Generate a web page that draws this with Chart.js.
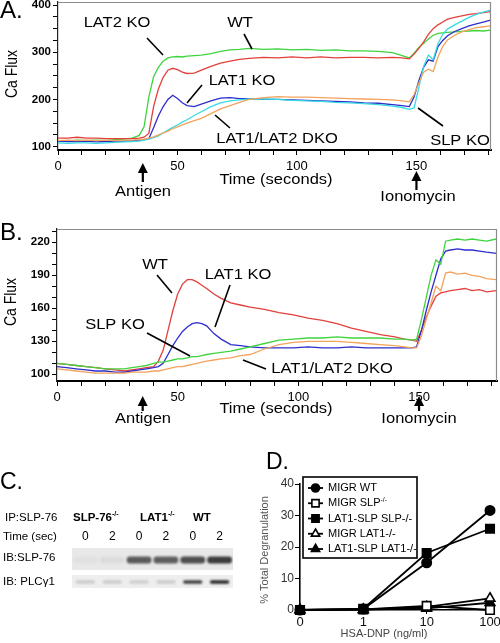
<!DOCTYPE html>
<html><head><meta charset="utf-8">
<script src="https://cdn.jsdelivr.net/npm/chart.js@4.4.1/dist/chart.umd.min.js"></script>
<style>
html,body{margin:0;padding:0;background:#fff;}
#fig{position:relative;width:500px;height:643px;overflow:hidden;background:#fff;}
canvas{position:absolute;}
</style></head><body>
<div id="fig">
<canvas id="cA" width="500" height="205" style="left:0;top:0;width:500px;height:205px"></canvas>
<canvas id="cB" width="500" height="220" style="left:0;top:210px;width:500px;height:220px"></canvas>
<canvas id="cC" width="250" height="130" style="left:0;top:470px;width:250px;height:130px"></canvas>
<canvas id="cD" width="250" height="203" style="left:250px;top:440px;width:250px;height:203px"></canvas>
</div>
<script>
const FONT = "'Liberation Sans', Arial, Helvetica, sans-serif";

// ---------- Panel A data (Ca flux, seconds) ----------
const timeA = [0,4,8,12,16,20,24,28,31,34,36,38,40,42,44,46,48,50,52,54,57,60,64,68,72,76,80,86,92,98,104,110,116,122,128,134,140,144,147,149,151,153,155,157,159,161,163,166,169,172,175,178,181];
const lat2koA = [111,112,114,113,114,113,115,116,118,124,142,205,248,268,281,288,290,291,290,292,293,294,297,302,305,306,308,306,307,305,306,304,305,303,303,302,299,293,288,298,310,319,328,336,340,341,342,343,344,345,346,345,347];
const wtA = [118,118,120,118,118,117,117,117,117,118,120,128,185,222,247,262,266,263,258,255,256,262,270,277,281,285,287,289,288,290,288,290,288,289,289,288,289,288,286,296,308,322,338,350,358,364,370,374,377,380,382,384,386];
const lat1koA = [112,111,111,112,110,111,112,112,113,114,115,117,140,165,185,200,209,202,193,187,185,190,197,203,204,202,202,200,200,199,198,197,196,195,193,192,189,187,185,205,240,268,284,281,312,325,335,344,350,356,360,364,368];
const slpkoA = [108,107,108,108,107,108,109,110,111,112,114,116,119,123,129,135,141,146,152,157,166,174,185,193,197,199,201,201,200,198,197,196,194,193,191,189,186,183,179,182,225,270,294,284,318,338,349,358,366,374,380,385,389];
const dkoA = [113,114,113,114,113,114,113,114,114,115,116,118,121,125,129,133,138,142,146,150,155,160,170,180,187,194,200,204,206,205,205,204,203,202,201,200,199,197,195,210,235,258,264,259,290,312,326,336,343,348,352,354,356];
const xTickLabelsA = [0,50,100,150];
const yTickLabelsA = [100,200,300,400];

// ---------- Panel B data ----------
const timeB = [0,4,8,12,16,20,24,28,31,34,37,40,42,44,46,48,50,52,54,56,58,60,62,65,68,72,76,80,86,92,98,104,110,116,122,128,134,140,144,147,149,151,153,155,157,159,161,163,166,169,172,175,178,182];
const wtB = [110,109,108,107,106,105,104,103,104,105,106,107,112,122,140,158,173,182,186,186,184,181,178,173,169,165,163,161,159,156,154,151,149,146,142,139,136,134,132,131,130,140,152,162,171,174,175,176,177,178,176,177,175,176];
const lat1koB = [107,106,105,104,103,103,102,102,103,104,105,106,107,110,118,126,133,139,143,146,147,146,144,137,132,127,126,125,124,124,124,125,124,124,125,124,124,124,124,124,125,140,158,175,190,205,212,213,214,213,213,212,211,210];
const slpkoB = [110,109,108,107,106,105,105,105,106,107,108,110,111,111,112,113,114,114,115,116,116,117,118,119,120,121,123,125,128,131,132,133,133,134,133,133,133,132,132,131,132,150,170,190,204,200,221,222,223,222,223,222,221,223];
const dkoB = [105,104,103,102,101,101,101,101,102,102,102,103,103,104,105,106,107,107,108,109,110,111,112,113,114,115,117,118,123,127,129,130,130,130,129,128,127,126,125,124,124,135,150,165,180,176,192,193,191,192,190,189,187,186];
const xTickLabelsB = [0,50,100,150];
const yTickLabelsB = [100,130,160,190,220];

// ---------- Panel C (blot band intensities, 0..1) ----------
const laneTimes = ['0','2','0','2','0','2'];
const slp76Band = [0.03,0.06,0.72,0.70,0.78,0.88];
const plcg1Band = [0.16,0.16,0.15,0.16,0.82,0.95];

// ---------- Panel D data ----------
const doseLabels = ['0','1','10','100'];
const migrWT = [0,0.3,15.0,31.6];
const migrSLP = [0,0.2,1.3,0.0];
const lat1slpSLP = [0,0.4,18.1,25.8];
const migrLAT1 = [0,0.1,1.0,3.7];
const lat1slpLAT1 = [0,0.1,0.5,2.3];

// ---------- helpers ----------
const COL = {red:'#e2413b', green:'#3fd43f', blue:'#2d2dcc', cyan:'#36dbe3', orange:'#f2a35c'};
const pts = (t, v) => t.map((x, i) => ({x, y: v[i]}));
const fixY = w => s => { s.width = w; s.paddingTop = 0; s.paddingBottom = 0; };
const fixX = h => s => { s.height = h; s.paddingLeft = 0; s.paddingRight = 0; };
const ANNOT = {};

function drawText(ctx, o) {
  ctx.save();
  ctx.translate(o.x, o.y);
  if (o.rot) ctx.rotate(o.rot);
  ctx.scale(o.sx || 1, o.sy || 1);
  ctx.fillStyle = o.color || '#000';
  ctx.textBaseline = 'middle';
  const parts = o.parts || [{s: o.t}];
  const w = o.weight || 'normal';
  const mainFont = w + ' ' + o.size + 'px ' + FONT;
  const supFont = w + ' ' + (o.size * 0.62).toFixed(1) + 'px ' + FONT;
  let total = 0;
  const widths = parts.map(p => { ctx.font = p.sup ? supFont : mainFont; const ww = ctx.measureText(p.s).width; total += ww; return ww; });
  let x0 = o.align === 'left' ? 0 : (o.align === 'right' ? -total : -total / 2);
  ctx.textAlign = 'left';
  parts.forEach((p, i) => { ctx.font = p.sup ? supFont : mainFont; ctx.fillText(p.s, x0, p.sup ? -o.size * 0.33 : 0); x0 += widths[i]; });
  ctx.restore();
}

const figPlugin = {
  id: 'figPlugin',
  beforeDatasetsDraw(chart) {
    const a = ANNOT[chart.canvas.id]; if (!a || !a.strips) return;
    const ctx = chart.ctx, ca = chart.chartArea, ys = chart.scales.y;
    a.strips.forEach(s => {
      const y0 = ys.getPixelForValue(s.y0), y1 = ys.getPixelForValue(s.y1);
      ctx.fillStyle = s.color;
      ctx.fillRect(ca.left, Math.min(y0, y1), ca.right - ca.left, Math.abs(y1 - y0));
    });
  },
  beforeDatasetDraw(chart) { const a = ANNOT[chart.canvas.id]; if (a && a.blur) { chart.ctx.save(); chart.ctx.filter = 'blur(' + a.blur + 'px)'; } },
  afterDatasetDraw(chart) { const a = ANNOT[chart.canvas.id]; if (a && a.blur) chart.ctx.restore(); },
  afterDraw(chart) {
    const a = ANNOT[chart.canvas.id]; if (!a) return;
    const ctx = chart.ctx, ca = chart.chartArea;
    ctx.save();
    if (a.frame) {
      ctx.strokeStyle = a.frame; ctx.lineWidth = 1.2;
      ctx.beginPath(); ctx.moveTo(ca.left, ca.top + 0.5); ctx.lineTo(ca.right - 0.5, ca.top + 0.5); ctx.lineTo(ca.right - 0.5, ca.bottom); ctx.stroke();
    }
    (a.lines || []).forEach(l => {
      ctx.strokeStyle = '#000'; ctx.lineWidth = 1.6;
      ctx.beginPath(); ctx.moveTo(l[0], l[1]); ctx.lineTo(l[2], l[3]); ctx.stroke();
    });
    (a.arrows || []).forEach(ar => {
      const x = chart.scales.x.getPixelForValue(ar.t);
      ctx.fillStyle = '#000'; ctx.strokeStyle = '#000'; ctx.lineWidth = 2.2;
      ctx.beginPath(); ctx.moveTo(x, ar.y1 + 6); ctx.lineTo(x, ar.y2); ctx.stroke();
      ctx.beginPath(); ctx.moveTo(x, ar.y1); ctx.lineTo(x - 5, ar.y1 + 10); ctx.lineTo(x + 5, ar.y1 + 10); ctx.closePath(); ctx.fill();
    });
    (a.texts || []).forEach(o => drawText(ctx, o));
    if (a.laneLabels) {
      a.laneLabels.forEach((lab, i) => drawText(ctx, {t: lab, x: chart.scales.x.getPixelForValue(i), y: a.laneY, size: 12}));
    }
    if (a.legend) a.legend(chart);
    ctx.restore();
  }
};

function curveChart(id, cfg) {
  return new Chart(document.getElementById(id), {
    type: 'line',
    data: { datasets: cfg.series.map(s => ({
      label: s.label, data: pts(cfg.time, s.values), borderColor: s.color, backgroundColor: s.color,
      borderWidth: 1.3, pointRadius: 0, tension: 0, fill: false })) },
    options: {
      responsive: false, animation: false, devicePixelRatio: 1,
      layout: { padding: cfg.padding },
      plugins: { legend: { display: false }, tooltip: { enabled: false } },
      scales: {
        x: { type: 'linear', min: 0, max: cfg.xMax, afterFit: fixX(cfg.xH),
          border: { color: '#000', width: 2 },
          grid: { drawOnChartArea: false, tickLength: 5, tickColor: '#000', tickWidth: 1 },
          ticks: { stepSize: 10, autoSkip: false, maxRotation: 0, includeBounds: false, padding: 4, color: '#000',
            font: { family: FONT, size: 13 }, callback: v => cfg.xLabels.includes(v) ? String(v) : '' } },
        y: { type: 'linear', min: cfg.yMin, max: cfg.yMax, afterFit: fixY(cfg.yW),
          border: { color: '#222', width: 1.2 },
          grid: { drawOnChartArea: false, tickLength: 5, tickColor: '#000', tickWidth: 1 },
          ticks: { stepSize: cfg.yStep, autoSkip: false, includeBounds: false, padding: 2, color: '#000',
            font: { family: FONT, size: 11.5, weight: 'bold' }, callback: v => cfg.yLabels.includes(v) ? String(v) : '' } }
      }
    },
    plugins: [figPlugin]
  });
}

// ---------- Panel A ----------
const SX = 1.18;
ANNOT.cA = {
  frame: '#8c8c8c',
  texts: [
    {t: 'A.', x: 0, y: 12, size: 23, sx: 1.05, align: 'left'},
    {t: 'Ca Flux', x: 12, y: 74, size: 14, rot: -Math.PI / 2, sy: SX},
    {t: 'LAT2 KO', x: 117, y: 23, size: 14, sx: SX},
    {t: 'WT', x: 240, y: 23, size: 14, sx: SX},
    {t: 'LAT1 KO', x: 242, y: 81, size: 14, sx: SX},
    {t: 'LAT1/LAT2 DKO', x: 277, y: 139, size: 14, sx: SX},
    {t: 'SLP KO', x: 460, y: 141, size: 14, sx: SX},
    {t: 'Time (seconds)', x: 276, y: 180, size: 14, sx: SX},
    {t: 'Antigen', x: 143, y: 192, size: 14, sx: SX},
    {t: 'Ionomycin', x: 418, y: 197, size: 14, sx: SX}
  ],
  lines: [[147, 38, 163, 55], [244, 34, 252, 49], [202, 85, 187, 103], [215, 115, 230, 128], [418, 108, 443, 126]],
  arrows: [{t: 35.5, y1: 163, y2: 182}, {t: 150, y1: 171, y2: 190}]
};
curveChart('cA', {
  time: timeA, xMax: 181.2, xH: 55, yMin: 93, yMax: 406.4, yW: 58, yStep: 25,
  xLabels: xTickLabelsA, yLabels: yTickLabelsA,
  padding: { top: 2, right: 9, left: 0, bottom: 0 },
  series: [
    {label: 'LAT1/LAT2 DKO', values: dkoA, color: COL.orange},
    {label: 'SLP KO', values: slpkoA, color: COL.cyan},
    {label: 'LAT1 KO', values: lat1koA, color: COL.blue},
    {label: 'WT', values: wtA, color: COL.red},
    {label: 'LAT2 KO', values: lat2koA, color: COL.green}
  ]
});

// ---------- Panel B ----------
ANNOT.cB = {
  frame: '#8c8c8c',
  texts: [
    {t: 'B.', x: 0, y: 24, size: 23, sx: 1.05, align: 'left'},
    {t: 'Ca Flux', x: 11, y: 92, size: 14, rot: -Math.PI / 2, sy: SX},
    {t: 'WT', x: 155, y: 55, size: 14, sx: SX},
    {t: 'LAT1 KO', x: 238, y: 65, size: 14, sx: SX},
    {t: 'SLP KO', x: 115, y: 115, size: 14, sx: SX},
    {t: 'LAT1/LAT2 DKO', x: 332, y: 159, size: 14, sx: SX},
    {t: 'Time (seconds)', x: 276, y: 199, size: 14, sx: SX},
    {t: 'Antigen', x: 143, y: 209, size: 14, sx: SX},
    {t: 'Ionomycin', x: 419, y: 209, size: 14, sx: SX}
  ],
  lines: [[157, 65, 172, 83], [230, 75, 215, 117], [147, 123, 190, 146], [243, 150, 266, 159]],
  arrows: [{t: 35.5, y1: 186, y2: 201}, {t: 150, y1: 186, y2: 201}]
};
curveChart('cB', {
  time: timeB, xMax: 182.3, xH: 49, yMin: 93.9, yMax: 232.1, yW: 57, yStep: 10,
  xLabels: xTickLabelsB, yLabels: yTickLabelsB,
  padding: { top: 19, right: 3, left: 0, bottom: 0 },
  series: [
    {label: 'LAT1/LAT2 DKO', values: dkoB, color: COL.orange},
    {label: 'SLP KO', values: slpkoB, color: COL.green},
    {label: 'LAT1 KO', values: lat1koB, color: COL.blue},
    {label: 'WT', values: wtB, color: COL.red}
  ]
});

// ---------- Panel C (blot) ----------
const ROW1 = {c: 14, h: 7}, ROW2 = {c: 36, h: 3.6};
ANNOT.cC = {
  blur: 0.9,
  strips: [{y0: 2, y1: 24, color: '#e8e8e8'}, {y0: 29, y1: 42, color: '#eeeeee'}],
  laneLabels: laneTimes, laneY: 67,
  texts: [
    {t: 'C.', x: 0, y: 13, size: 23, align: 'left'},
    {t: 'IP:SLP-76', x: 5, y: 48, size: 11.5, align: 'left'},
    {parts: [{s: 'SLP-76'}, {s: '-/-', sup: true}], x: 73, y: 48, size: 11.5, weight: 'bold', align: 'left'},
    {parts: [{s: 'LAT1'}, {s: '-/-', sup: true}], x: 140, y: 48, size: 11.5, weight: 'bold', align: 'left'},
    {t: 'WT', x: 193, y: 48, size: 11.5, weight: 'bold', align: 'left'},
    {t: 'Time (sec)', x: 3, y: 67, size: 11.5, align: 'left'},
    {t: 'IB:SLP-76', x: 3, y: 88, size: 11.5, align: 'left'},
    {t: 'IB: PLC\u03b31', x: 3, y: 112, size: 11.5, align: 'left'}
  ]
};
new Chart(document.getElementById('cC'), {
  type: 'bar',
  data: {
    labels: laneTimes.map((t, i) => 'lane' + (i + 1)),
    datasets: [
      {label: 'IB:SLP-76', data: slp76Band.map(() => [ROW1.c - ROW1.h / 2, ROW1.c + ROW1.h / 2]),
       backgroundColor: slp76Band.map(a => 'rgba(35,35,35,' + a + ')'), barPercentage: 0.92, categoryPercentage: 1, borderRadius: 3, borderSkipped: false},
      {label: 'IB: PLCγ1', data: plcg1Band.map(() => [ROW2.c - ROW2.h / 2, ROW2.c + ROW2.h / 2]),
       backgroundColor: plcg1Band.map(a => 'rgba(25,25,25,' + a + ')'), barPercentage: 0.72, categoryPercentage: 1, borderRadius: 2, borderSkipped: false}
    ]
  },
  options: {
    responsive: false, animation: false, devicePixelRatio: 1,
    layout: { padding: { top: 76, left: 72, right: 17, bottom: 10 } },
    plugins: { legend: { display: false }, tooltip: { enabled: false } },
    scales: {
      x: { display: false, stacked: true },
      y: { display: false, min: 0, max: 44, reverse: true }
    }
  },
  plugins: [figPlugin]
});

// ---------- Panel D ----------
const dSeries = [migrWT, migrSLP, lat1slpSLP, migrLAT1, lat1slpLAT1];
const dLabels = ['MIGR WT', 'MIGR SLP-/-', 'LAT1-SLP SLP-/-', 'MIGR LAT1-/-', 'LAT1-SLP LAT1-/-'];
const dLegendParts = [
  [{s: 'MIGR WT'}], [{s: 'MIGR SLP'}, {s: '-/-', sup: true}], [{s: 'LAT1-SLP SLP-/-'}],
  [{s: 'MIGR LAT1-/-'}], [{s: 'LAT1-SLP LAT1-/-'}]
];
const dStyles = [
  {pointStyle: 'circle', radius: 4.7, fill: '#000'},
  {pointStyle: 'rect', radius: 6, fill: '#fff'},
  {pointStyle: 'rect', radius: 6, fill: '#000'},
  {pointStyle: 'triangle', radius: 5.6, fill: '#fff'},
  {pointStyle: 'triangle', radius: 5.6, fill: '#000'}
];
function drawLegendD(chart) {
  const ctx = chart.ctx;
  const box = {x: 53, y: 37, w: 114, h: 81};
  ctx.fillStyle = '#fff'; ctx.fillRect(box.x, box.y, box.w, box.h);
  ctx.strokeStyle = '#000'; ctx.lineWidth = 1.6; ctx.strokeRect(box.x, box.y, box.w, box.h);
  chart.data.datasets.forEach((ds, i) => {
    const y = box.y + 11 + i * 15.25;
    ctx.strokeStyle = '#000'; ctx.lineWidth = 1.8;
    ctx.beginPath(); ctx.moveTo(box.x + 5, y); ctx.lineTo(box.x + 20, y); ctx.stroke();
    ctx.fillStyle = ds.pointBackgroundColor; ctx.strokeStyle = '#000'; ctx.lineWidth = 1.6;
    Chart.helpers.drawPoint(ctx, {pointStyle: ds.pointStyle, rotation: 0, radius: ds.pointRadius * 0.85, borderWidth: 1.6}, box.x + 12.5, y);
    drawText(ctx, {parts: dLegendParts[i], x: box.x + 25, y: y, size: 11, align: 'left'});
  });
}
ANNOT.cD = {
  texts: [
    {t: 'D.', x: 16, y: 23, size: 23, align: 'left'},
    {t: '% Total Degranulation', x: 15, y: 110, size: 11, rot: -Math.PI / 2, color: '#555'},
    {t: 'HSA-DNP (ng/ml)', x: 134, y: 194, size: 11, color: '#444'}
  ],
  legend: drawLegendD
};
new Chart(document.getElementById('cD'), {
  type: 'line',
  data: {
    labels: doseLabels,
    datasets: dSeries.map((vals, i) => ({
      label: dLabels[i], data: vals, borderColor: '#000', borderWidth: 1.8, tension: 0, fill: false,
      pointStyle: dStyles[i].pointStyle, pointRadius: dStyles[i].radius, pointBorderWidth: 1.6,
      pointBackgroundColor: dStyles[i].fill, pointBorderColor: '#000', clip: false
    }))
  },
  options: {
    responsive: false, animation: false, devicePixelRatio: 1,
    layout: { padding: { top: 44, right: 10, left: 0, bottom: 0 } },
    plugins: { legend: { display: false }, tooltip: { enabled: false } },
    scales: {
      x: { type: 'category', offset: false, afterFit: fixX(33),
        border: { color: '#000', width: 1.6 },
        grid: { drawOnChartArea: false, tickLength: 4, tickColor: '#000' },
        ticks: { padding: 1, color: '#111', maxRotation: 0, autoSkip: false, font: { family: FONT, size: 13 } } },
      y: { min: 0, max: 40, afterFit: fixY(50),
        border: { color: '#000', width: 1.6 },
        grid: { drawOnChartArea: false, tickLength: 5, tickColor: '#000' },
        ticks: { stepSize: 10, padding: 1, color: '#333', font: { family: FONT, size: 12 } } }
    }
  },
  plugins: [figPlugin]
});
</script>
</body></html>
